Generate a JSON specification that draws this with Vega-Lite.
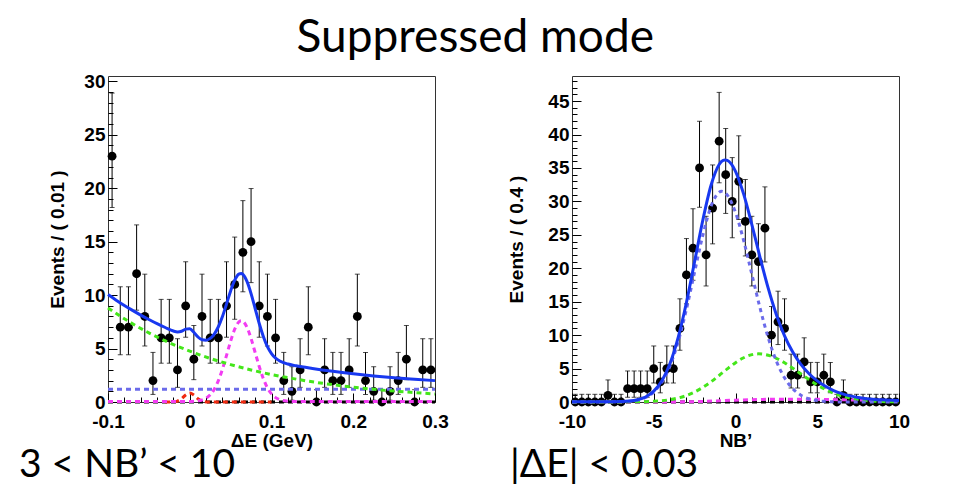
{
  "$schema": "https://vega.github.io/schema/vega-lite/v6.json",
  "background": "white",
  "padding": {"left": 18, "top": 14, "right": 10, "bottom": 0},
  "title": {"text": "Suppressed mode", "font": "Lato", "fontSize": 46, "fontWeight": "normal", "color": "black", "anchor": "middle", "offset": 10, "dx": 11},
  "spacing": 58,
  "config": {
    "view": {"stroke": "#333", "strokeWidth": 1},
    "axis": {"labelFont": "Liberation Sans", "labelFontWeight": "bold", "labelFontSize": 19, "labelColor": "black",
      "titleFont": "Liberation Sans", "titleFontWeight": "bold", "titleFontSize": 19, "titleColor": "black",
      "tickColor": "black", "tickWidth": 1, "domain": false, "grid": false, "labelOverlap": false, "labelFlush": false, "labelBound": false}
  },
  "datasets": {
    "lpts": [
      {"x": -0.095, "n": 23, "lo": 18.2, "hi": 28.9},
      {"x": -0.085, "n": 7, "lo": 4.42, "hi": 10.78},
      {"x": -0.075, "n": 7, "lo": 4.42, "hi": 10.78},
      {"x": -0.065, "n": 12, "lo": 8.59, "hi": 16.57},
      {"x": -0.055, "n": 8, "lo": 5.24, "hi": 11.96},
      {"x": -0.045, "n": 2, "lo": 0.71, "hi": 4.64},
      {"x": -0.035, "n": 6, "lo": 3.63, "hi": 9.6},
      {"x": -0.025, "n": 6, "lo": 3.63, "hi": 9.6},
      {"x": -0.015, "n": 3, "lo": 1.37, "hi": 5.92},
      {"x": -0.005, "n": 9, "lo": 6.06, "hi": 13.12},
      {"x": 0.005, "n": 4, "lo": 2.09, "hi": 7.16},
      {"x": 0.015, "n": 8, "lo": 5.24, "hi": 11.96},
      {"x": 0.025, "n": 6, "lo": 3.63, "hi": 9.6},
      {"x": 0.035, "n": 6, "lo": 3.63, "hi": 9.6},
      {"x": 0.045, "n": 9, "lo": 6.06, "hi": 13.12},
      {"x": 0.055, "n": 11, "lo": 7.74, "hi": 15.43},
      {"x": 0.065, "n": 14, "lo": 10.31, "hi": 18.84},
      {"x": 0.075, "n": 15, "lo": 11.17, "hi": 19.97},
      {"x": 0.085, "n": 9, "lo": 6.06, "hi": 13.12},
      {"x": 0.095, "n": 8, "lo": 5.24, "hi": 11.96},
      {"x": 0.105, "n": 6, "lo": 3.63, "hi": 9.6},
      {"x": 0.115, "n": 2, "lo": 0.71, "hi": 4.64},
      {"x": 0.125, "n": 1, "lo": 0.17, "hi": 3.3},
      {"x": 0.135, "n": 3, "lo": 1.37, "hi": 5.92},
      {"x": 0.145, "n": 7, "lo": 4.42, "hi": 10.78},
      {"x": 0.155, "n": 0, "lo": 0, "hi": 1.15},
      {"x": 0.165, "n": 3, "lo": 1.37, "hi": 5.92},
      {"x": 0.175, "n": 2, "lo": 0.71, "hi": 4.64},
      {"x": 0.185, "n": 2, "lo": 0.71, "hi": 4.64},
      {"x": 0.195, "n": 3, "lo": 1.37, "hi": 5.92},
      {"x": 0.205, "n": 8, "lo": 5.24, "hi": 11.96},
      {"x": 0.215, "n": 2, "lo": 0.71, "hi": 4.64},
      {"x": 0.225, "n": 1, "lo": 0.17, "hi": 3.3},
      {"x": 0.235, "n": 0, "lo": 0, "hi": 1.15},
      {"x": 0.245, "n": 1, "lo": 0.17, "hi": 3.3},
      {"x": 0.255, "n": 2, "lo": 0.71, "hi": 4.64},
      {"x": 0.265, "n": 4, "lo": 2.09, "hi": 7.16},
      {"x": 0.275, "n": 0, "lo": 0, "hi": 1.15},
      {"x": 0.285, "n": 3, "lo": 1.37, "hi": 5.92},
      {"x": 0.295, "n": 3, "lo": 1.37, "hi": 5.92}
    ],
    "rpts": [
      {"x": -9.8, "n": 0, "lo": 0, "hi": 1.15},
      {"x": -9.4, "n": 0, "lo": 0, "hi": 1.15},
      {"x": -9.0, "n": 0, "lo": 0, "hi": 1.15},
      {"x": -8.6, "n": 0, "lo": 0, "hi": 1.15},
      {"x": -8.2, "n": 0, "lo": 0, "hi": 1.15},
      {"x": -7.8, "n": 1, "lo": 0.17, "hi": 3.3},
      {"x": -7.4, "n": 0, "lo": 0, "hi": 1.15},
      {"x": -7.0, "n": 0, "lo": 0, "hi": 1.15},
      {"x": -6.6, "n": 2, "lo": 0.71, "hi": 4.64},
      {"x": -6.2, "n": 2, "lo": 0.71, "hi": 4.64},
      {"x": -5.8, "n": 2, "lo": 0.71, "hi": 4.64},
      {"x": -5.4, "n": 2, "lo": 0.71, "hi": 4.64},
      {"x": -5.0, "n": 5, "lo": 2.84, "hi": 8.38},
      {"x": -4.6, "n": 3, "lo": 1.37, "hi": 5.92},
      {"x": -4.2, "n": 5, "lo": 2.84, "hi": 8.38},
      {"x": -3.8, "n": 5, "lo": 2.84, "hi": 8.38},
      {"x": -3.4, "n": 11, "lo": 7.74, "hi": 15.43},
      {"x": -3.0, "n": 19, "lo": 14.68, "hi": 24.44},
      {"x": -2.6, "n": 23, "lo": 18.2, "hi": 28.9},
      {"x": -2.2, "n": 35, "lo": 29.12, "hi": 41.98},
      {"x": -1.8, "n": 22, "lo": 17.35, "hi": 27.77},
      {"x": -1.4, "n": 29, "lo": 23.65, "hi": 35.45},
      {"x": -1.0, "n": 39, "lo": 32.78, "hi": 46.3},
      {"x": -0.6, "n": 34, "lo": 28.2, "hi": 40.9},
      {"x": -0.2, "n": 30, "lo": 24.56, "hi": 36.55},
      {"x": 0.2, "n": 33, "lo": 27.29, "hi": 39.81},
      {"x": 0.6, "n": 27, "lo": 21.84, "hi": 33.27},
      {"x": 1.0, "n": 22, "lo": 17.35, "hi": 27.77},
      {"x": 1.4, "n": 21, "lo": 16.46, "hi": 26.66},
      {"x": 1.8, "n": 26, "lo": 20.94, "hi": 32.17},
      {"x": 2.2, "n": 10, "lo": 6.9, "hi": 14.28},
      {"x": 2.6, "n": 12, "lo": 8.59, "hi": 16.57},
      {"x": 3.0, "n": 11, "lo": 7.74, "hi": 15.43},
      {"x": 3.4, "n": 4, "lo": 2.09, "hi": 7.16},
      {"x": 3.8, "n": 4, "lo": 2.09, "hi": 7.16},
      {"x": 4.2, "n": 6, "lo": 3.63, "hi": 9.6},
      {"x": 4.6, "n": 3, "lo": 1.37, "hi": 5.92},
      {"x": 5.0, "n": 3, "lo": 1.37, "hi": 5.92},
      {"x": 5.4, "n": 4, "lo": 2.09, "hi": 7.16},
      {"x": 5.8, "n": 3, "lo": 1.37, "hi": 5.92},
      {"x": 6.2, "n": 0, "lo": 0, "hi": 1.15},
      {"x": 6.6, "n": 1, "lo": 0.17, "hi": 3.3},
      {"x": 7.0, "n": 0, "lo": 0, "hi": 1.15},
      {"x": 7.4, "n": 0, "lo": 0, "hi": 1.15},
      {"x": 7.8, "n": 0, "lo": 0, "hi": 1.15},
      {"x": 8.2, "n": 0, "lo": 0, "hi": 1.15},
      {"x": 8.6, "n": 0, "lo": 0, "hi": 1.15},
      {"x": 9.0, "n": 0, "lo": 0, "hi": 1.15},
      {"x": 9.4, "n": 0, "lo": 0, "hi": 1.15},
      {"x": 9.8, "n": 0, "lo": 0, "hi": 1.15}
    ],
    "lcur": [
      {"s": "black", "x": -0.1, "y": 0}, {"s": "black", "x": 0.3, "y": 0},
      {"s": "flat", "x": -0.1, "y": 1.2}, {"s": "flat", "x": 0.3, "y": 1.2},
      {"s": "red", "x": -0.03, "y": 0}, {"s": "red", "x": -0.02, "y": 0.01}, {"s": "red", "x": -0.015, "y": 0.09}, {"s": "red", "x": -0.01, "y": 0.31}, {"s": "red", "x": -0.005, "y": 0.66}, {"s": "red", "x": 0, "y": 0.85}, {"s": "red", "x": 0.005, "y": 0.66}, {"s": "red", "x": 0.01, "y": 0.31}, {"s": "red", "x": 0.015, "y": 0.09}, {"s": "red", "x": 0.02, "y": 0.01}, {"s": "red", "x": 0.03, "y": 0}, {"s": "red", "x": 0.1, "y": 0},
      {"s": "green", "x": -0.1, "y": 8.8}, {"s": "green", "x": -0.075, "y": 7.55}, {"s": "green", "x": -0.05, "y": 6.47}, {"s": "green", "x": -0.025, "y": 5.55}, {"s": "green", "x": 0, "y": 4.76}, {"s": "green", "x": 0.025, "y": 4.08}, {"s": "green", "x": 0.05, "y": 3.5}, {"s": "green", "x": 0.075, "y": 3.0}, {"s": "green", "x": 0.1, "y": 2.57}, {"s": "green", "x": 0.125, "y": 2.21}, {"s": "green", "x": 0.15, "y": 1.89}, {"s": "green", "x": 0.175, "y": 1.62}, {"s": "green", "x": 0.2, "y": 1.39}, {"s": "green", "x": 0.225, "y": 1.19}, {"s": "green", "x": 0.25, "y": 1.02}, {"s": "green", "x": 0.275, "y": 0.88}, {"s": "green", "x": 0.3, "y": 0.75},
      {"s": "magenta", "x": -0.1, "y": 0.05}, {"s": "magenta", "x": 0, "y": 0.05}, {"s": "magenta", "x": 0.01, "y": 0.11}, {"s": "magenta", "x": 0.015, "y": 0.19}, {"s": "magenta", "x": 0.02, "y": 0.36}, {"s": "magenta", "x": 0.025, "y": 0.67}, {"s": "magenta", "x": 0.03, "y": 1.2}, {"s": "magenta", "x": 0.035, "y": 2.0}, {"s": "magenta", "x": 0.04, "y": 3.07}, {"s": "magenta", "x": 0.045, "y": 4.36}, {"s": "magenta", "x": 0.05, "y": 5.69}, {"s": "magenta", "x": 0.055, "y": 6.81}, {"s": "magenta", "x": 0.06, "y": 7.48}, {"s": "magenta", "x": 0.063, "y": 7.6}, {"s": "magenta", "x": 0.065, "y": 7.55}, {"s": "magenta", "x": 0.07, "y": 6.99}, {"s": "magenta", "x": 0.075, "y": 5.94}, {"s": "magenta", "x": 0.08, "y": 4.63}, {"s": "magenta", "x": 0.085, "y": 3.32}, {"s": "magenta", "x": 0.09, "y": 2.19}, {"s": "magenta", "x": 0.095, "y": 1.33}, {"s": "magenta", "x": 0.1, "y": 0.76}, {"s": "magenta", "x": 0.105, "y": 0.41}, {"s": "magenta", "x": 0.11, "y": 0.22}, {"s": "magenta", "x": 0.12, "y": 0.08}, {"s": "magenta", "x": 0.13, "y": 0.05}, {"s": "magenta", "x": 0.3, "y": 0.05},
      {"s": "total", "x": -0.1, "y": 10.05}, {"s": "total", "x": -0.09, "y": 9.53}, {"s": "total", "x": -0.08, "y": 9.03}, {"s": "total", "x": -0.07, "y": 8.57}, {"s": "total", "x": -0.06, "y": 8.13}, {"s": "total", "x": -0.05, "y": 7.72}, {"s": "total", "x": -0.04, "y": 7.33}, {"s": "total", "x": -0.03, "y": 6.97}, {"s": "total", "x": -0.02, "y": 6.64}, {"s": "total", "x": -0.015, "y": 6.56}, {"s": "total", "x": -0.01, "y": 6.62}, {"s": "total", "x": -0.005, "y": 6.82}, {"s": "total", "x": 0, "y": 6.86}, {"s": "total", "x": 0.005, "y": 6.52}, {"s": "total", "x": 0.01, "y": 6.09}, {"s": "total", "x": 0.015, "y": 5.82}, {"s": "total", "x": 0.02, "y": 5.78}, {"s": "total", "x": 0.025, "y": 5.95}, {"s": "total", "x": 0.03, "y": 6.36}, {"s": "total", "x": 0.035, "y": 7.04}, {"s": "total", "x": 0.04, "y": 7.99}, {"s": "total", "x": 0.045, "y": 9.17}, {"s": "total", "x": 0.05, "y": 10.39}, {"s": "total", "x": 0.055, "y": 11.4}, {"s": "total", "x": 0.06, "y": 11.97}, {"s": "total", "x": 0.063, "y": 12.03}, {"s": "total", "x": 0.065, "y": 11.94}, {"s": "total", "x": 0.07, "y": 11.28}, {"s": "total", "x": 0.075, "y": 10.14}, {"s": "total", "x": 0.08, "y": 8.74}, {"s": "total", "x": 0.085, "y": 7.34}, {"s": "total", "x": 0.09, "y": 6.13}, {"s": "total", "x": 0.095, "y": 5.18}, {"s": "total", "x": 0.1, "y": 4.53}, {"s": "total", "x": 0.105, "y": 4.1}, {"s": "total", "x": 0.11, "y": 3.84}, {"s": "total", "x": 0.12, "y": 3.55}, {"s": "total", "x": 0.13, "y": 3.39}, {"s": "total", "x": 0.15, "y": 3.14}, {"s": "total", "x": 0.175, "y": 2.87}, {"s": "total", "x": 0.2, "y": 2.64}, {"s": "total", "x": 0.225, "y": 2.44}, {"s": "total", "x": 0.25, "y": 2.27}, {"s": "total", "x": 0.275, "y": 2.13}, {"s": "total", "x": 0.3, "y": 2.0}
    ],
    "rcur": [
      {"s": "black", "x": -10, "y": 0}, {"s": "black", "x": 10, "y": 0},
      {"s": "magenta", "x": -10, "y": 0}, {"s": "magenta", "x": -3, "y": 0.02}, {"s": "magenta", "x": -2, "y": 0.08}, {"s": "magenta", "x": -1, "y": 0.18}, {"s": "magenta", "x": 0, "y": 0.28}, {"s": "magenta", "x": 1, "y": 0.35}, {"s": "magenta", "x": 2, "y": 0.4}, {"s": "magenta", "x": 3, "y": 0.42}, {"s": "magenta", "x": 4, "y": 0.42}, {"s": "magenta", "x": 5, "y": 0.4}, {"s": "magenta", "x": 6, "y": 0.36}, {"s": "magenta", "x": 7, "y": 0.32}, {"s": "magenta", "x": 8, "y": 0.28}, {"s": "magenta", "x": 9, "y": 0.25}, {"s": "magenta", "x": 10, "y": 0.22},
      {"s": "green", "x": -10, "y": 0}, {"s": "green", "x": -6, "y": 0.03}, {"s": "green", "x": -5.5, "y": 0.05}, {"s": "green", "x": -5, "y": 0.11}, {"s": "green", "x": -4.5, "y": 0.2}, {"s": "green", "x": -4, "y": 0.35}, {"s": "green", "x": -3.5, "y": 0.6}, {"s": "green", "x": -3, "y": 0.97}, {"s": "green", "x": -2.5, "y": 1.5}, {"s": "green", "x": -2, "y": 2.18}, {"s": "green", "x": -1.5, "y": 3.02}, {"s": "green", "x": -1, "y": 3.97}, {"s": "green", "x": -0.5, "y": 4.96}, {"s": "green", "x": 0, "y": 5.88}, {"s": "green", "x": 0.5, "y": 6.62}, {"s": "green", "x": 1, "y": 7.08}, {"s": "green", "x": 1.4, "y": 7.2}, {"s": "green", "x": 2, "y": 7.0}, {"s": "green", "x": 2.5, "y": 6.54}, {"s": "green", "x": 3, "y": 5.87}, {"s": "green", "x": 3.5, "y": 5.06}, {"s": "green", "x": 4, "y": 4.19}, {"s": "green", "x": 4.5, "y": 3.34}, {"s": "green", "x": 5, "y": 2.55}, {"s": "green", "x": 5.5, "y": 1.88}, {"s": "green", "x": 6, "y": 1.32}, {"s": "green", "x": 6.5, "y": 0.9}, {"s": "green", "x": 7, "y": 0.59}, {"s": "green", "x": 7.5, "y": 0.37}, {"s": "green", "x": 8, "y": 0.22}, {"s": "green", "x": 9, "y": 0.07}, {"s": "green", "x": 10, "y": 0.02},
      {"s": "purple", "x": -10, "y": 0}, {"s": "purple", "x": -7, "y": 0.04}, {"s": "purple", "x": -6.5, "y": 0.11}, {"s": "purple", "x": -6, "y": 0.29}, {"s": "purple", "x": -5.5, "y": 0.68}, {"s": "purple", "x": -5, "y": 1.49}, {"s": "purple", "x": -4.5, "y": 2.97}, {"s": "purple", "x": -4, "y": 5.43}, {"s": "purple", "x": -3.5, "y": 9.08}, {"s": "purple", "x": -3, "y": 13.89}, {"s": "purple", "x": -2.5, "y": 19.45}, {"s": "purple", "x": -2, "y": 24.92}, {"s": "purple", "x": -1.5, "y": 29.23}, {"s": "purple", "x": -1, "y": 31.37}, {"s": "purple", "x": -0.85, "y": 31.5}, {"s": "purple", "x": -0.5, "y": 30.94}, {"s": "purple", "x": 0, "y": 28.34}, {"s": "purple", "x": 0.5, "y": 24.14}, {"s": "purple", "x": 1, "y": 19.11}, {"s": "purple", "x": 1.5, "y": 14.06}, {"s": "purple", "x": 2, "y": 9.62}, {"s": "purple", "x": 2.5, "y": 6.11}, {"s": "purple", "x": 3, "y": 3.61}, {"s": "purple", "x": 3.5, "y": 1.99}, {"s": "purple", "x": 4, "y": 1.01}, {"s": "purple", "x": 4.5, "y": 0.48}, {"s": "purple", "x": 5, "y": 0.21}, {"s": "purple", "x": 5.5, "y": 0.09}, {"s": "purple", "x": 6, "y": 0.03}, {"s": "purple", "x": 7, "y": 0}, {"s": "purple", "x": 10, "y": 0},
      {"s": "total", "x": -10, "y": 0.02}, {"s": "total", "x": -8, "y": 0.03}, {"s": "total", "x": -7, "y": 0.07}, {"s": "total", "x": -6.5, "y": 0.14}, {"s": "total", "x": -6, "y": 0.34}, {"s": "total", "x": -5.5, "y": 0.75}, {"s": "total", "x": -5, "y": 1.62}, {"s": "total", "x": -4.5, "y": 3.19}, {"s": "total", "x": -4, "y": 5.8}, {"s": "total", "x": -3.5, "y": 9.7}, {"s": "total", "x": -3, "y": 14.88}, {"s": "total", "x": -2.5, "y": 21.0}, {"s": "total", "x": -2, "y": 27.18}, {"s": "total", "x": -1.5, "y": 32.38}, {"s": "total", "x": -1, "y": 35.52}, {"s": "total", "x": -0.85, "y": 35.97}, {"s": "total", "x": -0.65, "y": 36.19}, {"s": "total", "x": -0.5, "y": 36.13}, {"s": "total", "x": -0.25, "y": 35.57}, {"s": "total", "x": 0, "y": 34.5}, {"s": "total", "x": 0.5, "y": 31.08}, {"s": "total", "x": 1, "y": 26.54}, {"s": "total", "x": 1.5, "y": 21.63}, {"s": "total", "x": 2, "y": 17.02}, {"s": "total", "x": 2.5, "y": 13.06}, {"s": "total", "x": 3, "y": 9.9}, {"s": "total", "x": 3.5, "y": 7.47}, {"s": "total", "x": 4, "y": 5.62}, {"s": "total", "x": 4.5, "y": 4.23}, {"s": "total", "x": 5, "y": 3.16}, {"s": "total", "x": 5.5, "y": 2.35}, {"s": "total", "x": 6, "y": 1.71}, {"s": "total", "x": 6.5, "y": 1.25}, {"s": "total", "x": 7, "y": 0.91}, {"s": "total", "x": 7.5, "y": 0.67}, {"s": "total", "x": 8, "y": 0.5}, {"s": "total", "x": 9, "y": 0.32}, {"s": "total", "x": 10, "y": 0.24}
    ]
  },
  "hconcat": [
    {
      "width": 327, "height": 326,
      "title": {"text": "3 < NB’ < 10", "orient": "bottom", "anchor": "start", "frame": "group", "dx": -89, "offset": 27, "baseline": "alphabetic", "font": "Lato", "fontSize": 39, "fontWeight": "normal", "color": "black"},
      "resolve": {"axis": {"x": "independent", "y": "independent"}},
      "layer": [
        {"data": {"name": "lcur"}, "transform": [{"filter": "datum.s === 'black'"}],
          "mark": {"type": "line", "color": "black", "strokeWidth": 3, "strokeDash": [5, 4]},
          "encoding": {"x": {"field": "x", "type": "quantitative", "scale": {"domain": [-0.1, 0.3], "nice": false, "zero": false},
              "axis": {"orient": "bottom", "values": [-0.08, -0.06, -0.04, -0.02, 0.02, 0.04, 0.06, 0.08, 0.12, 0.14, 0.16, 0.18, 0.22, 0.24, 0.26, 0.28], "labels": false, "title": null, "tickSize": -5}},
            "y": {"field": "y", "type": "quantitative", "scale": {"domain": [0, 30.5], "nice": false},
              "axis": {"orient": "left", "values": [1,2,3,4,6,7,8,9,11,12,13,14,16,17,18,19,21,22,23,24,26,27,28,29], "labels": false, "title": null, "tickSize": -5}}}},
        {"data": {"name": "lpts"},
          "mark": {"type": "errorbar", "color": "black", "ticks": {"size": 5, "thickness": 1, "color": "black"}, "rule": {"strokeWidth": 1, "color": "black"}},
          "encoding": {"x": {"field": "x", "type": "quantitative", "scale": {"domain": [-0.1, 0.3], "nice": false, "zero": false}, "axis": null},
            "y": {"field": "lo", "type": "quantitative", "scale": {"domain": [0, 30.5], "nice": false}, "axis": null},
            "y2": {"field": "hi"}}},
        {"data": {"name": "lpts"},
          "mark": {"type": "circle", "color": "black", "size": 78, "opacity": 1},
          "encoding": {
            "x": {"field": "x", "type": "quantitative", "scale": {"domain": [-0.1, 0.3], "nice": false, "zero": false},
              "axis": {"orient": "bottom", "title": "ΔE (GeV)", "values": [-0.1, 0, 0.1, 0.2, 0.3],
                "labelExpr": "toString(round(datum.value*10)/10)",
                "tickSize": -9, "labelPadding": 19, "titlePadding": 0}},
            "y": {"field": "n", "type": "quantitative", "scale": {"domain": [0, 30.5], "nice": false},
              "axis": {"orient": "left", "title": "Events / ( 0.01 )", "values": [0, 5, 10, 15, 20, 25, 30],
                "labelExpr": "toString(datum.value)",
                "tickSize": -9, "labelPadding": 12, "titlePadding": 16}}}},
        {"data": {"name": "lcur"}, "transform": [{"filter": "datum.s === 'red'"}],
          "mark": {"type": "line", "color": "#f02a10", "strokeWidth": 3, "strokeDash": [5, 4], "interpolate": "monotone"},
          "encoding": {"x": {"field": "x", "type": "quantitative", "scale": {"domain": [-0.1, 0.3], "nice": false, "zero": false}, "axis": null},
            "y": {"field": "y", "type": "quantitative", "scale": {"domain": [0, 30.5], "nice": false}, "axis": null}}},
        {"data": {"name": "lcur"}, "transform": [{"filter": "datum.s === 'flat'"}],
          "mark": {"type": "line", "color": "#6b6bea", "strokeWidth": 3, "strokeDash": [5, 4]},
          "encoding": {"x": {"field": "x", "type": "quantitative", "scale": {"domain": [-0.1, 0.3], "nice": false, "zero": false}, "axis": null},
            "y": {"field": "y", "type": "quantitative", "scale": {"domain": [0, 30.5], "nice": false}, "axis": null}}},
        {"data": {"name": "lcur"}, "transform": [{"filter": "datum.s === 'magenta'"}],
          "mark": {"type": "line", "color": "#f23cf2", "strokeWidth": 3, "strokeDash": [5, 4], "interpolate": "monotone"},
          "encoding": {"x": {"field": "x", "type": "quantitative", "scale": {"domain": [-0.1, 0.3], "nice": false, "zero": false}, "axis": null},
            "y": {"field": "y", "type": "quantitative", "scale": {"domain": [0, 30.5], "nice": false}, "axis": null}}},
        {"data": {"name": "lcur"}, "transform": [{"filter": "datum.s === 'green'"}],
          "mark": {"type": "line", "color": "#44e61a", "strokeWidth": 3, "strokeDash": [5, 4], "interpolate": "monotone"},
          "encoding": {"x": {"field": "x", "type": "quantitative", "scale": {"domain": [-0.1, 0.3], "nice": false, "zero": false}, "axis": null},
            "y": {"field": "y", "type": "quantitative", "scale": {"domain": [0, 30.5], "nice": false}, "axis": null}}},
        {"data": {"name": "lcur"}, "transform": [{"filter": "datum.s === 'total'"}],
          "mark": {"type": "line", "color": "#1838f0", "strokeWidth": 3, "interpolate": "monotone"},
          "encoding": {"x": {"field": "x", "type": "quantitative", "scale": {"domain": [-0.1, 0.3], "nice": false, "zero": false}, "axis": null},
            "y": {"field": "y", "type": "quantitative", "scale": {"domain": [0, 30.5], "nice": false}, "axis": null}}}
      ]
    },
    {
      "width": 327, "height": 326,
      "title": {"text": "|ΔE| < 0.03", "orient": "bottom", "anchor": "start", "frame": "group", "dx": -62, "offset": 27, "baseline": "alphabetic", "font": "Lato", "fontSize": 39, "fontWeight": "normal", "color": "black"},
      "resolve": {"axis": {"x": "independent", "y": "independent"}},
      "layer": [
        {"data": {"name": "rcur"}, "transform": [{"filter": "datum.s === 'black'"}],
          "mark": {"type": "line", "color": "black", "strokeWidth": 3, "strokeDash": [5, 4]},
          "encoding": {"x": {"field": "x", "type": "quantitative", "scale": {"domain": [-10, 10], "nice": false, "zero": false},
              "axis": {"orient": "bottom", "values": [-9,-8,-7,-6,-4,-3,-2,-1,1,2,3,4,6,7,8,9], "labels": false, "title": null, "tickSize": -5}},
            "y": {"field": "y", "type": "quantitative", "scale": {"domain": [0, 48.75], "nice": false},
              "axis": {"orient": "left", "values": [1,2,3,4,6,7,8,9,11,12,13,14,16,17,18,19,21,22,23,24,26,27,28,29,31,32,33,34,36,37,38,39,41,42,43,44,46,47,48], "labels": false, "title": null, "tickSize": -5}}}},
        {"data": {"name": "rpts"},
          "mark": {"type": "errorbar", "color": "black", "ticks": {"size": 5, "thickness": 1, "color": "black"}, "rule": {"strokeWidth": 1, "color": "black"}},
          "encoding": {"x": {"field": "x", "type": "quantitative", "scale": {"domain": [-10, 10], "nice": false, "zero": false}, "axis": null},
            "y": {"field": "lo", "type": "quantitative", "scale": {"domain": [0, 48.75], "nice": false}, "axis": null},
            "y2": {"field": "hi"}}},
        {"data": {"name": "rpts"},
          "mark": {"type": "circle", "color": "black", "size": 78, "opacity": 1},
          "encoding": {
            "x": {"field": "x", "type": "quantitative", "scale": {"domain": [-10, 10], "nice": false, "zero": false},
              "axis": {"orient": "bottom", "title": "NB’", "values": [-10, -5, 0, 5, 10],
                "labelExpr": "toString(datum.value)",
                "tickSize": -9, "labelPadding": 19, "titlePadding": 0}},
            "y": {"field": "n", "type": "quantitative", "scale": {"domain": [0, 48.75], "nice": false},
              "axis": {"orient": "left", "title": "Events / ( 0.4 )", "values": [0, 5, 10, 15, 20, 25, 30, 35, 40, 45],
                "labelExpr": "toString(datum.value)",
                "tickSize": -9, "labelPadding": 12, "titlePadding": 21}}}},
        {"data": {"name": "rcur"}, "transform": [{"filter": "datum.s === 'magenta'"}],
          "mark": {"type": "line", "color": "#f23cf2", "strokeWidth": 3, "strokeDash": [5, 4], "interpolate": "monotone"},
          "encoding": {"x": {"field": "x", "type": "quantitative", "scale": {"domain": [-10, 10], "nice": false, "zero": false}, "axis": null},
            "y": {"field": "y", "type": "quantitative", "scale": {"domain": [0, 48.75], "nice": false}, "axis": null}}},
        {"data": {"name": "rcur"}, "transform": [{"filter": "datum.s === 'green'"}],
          "mark": {"type": "line", "color": "#44e61a", "strokeWidth": 3, "strokeDash": [5, 4], "interpolate": "monotone"},
          "encoding": {"x": {"field": "x", "type": "quantitative", "scale": {"domain": [-10, 10], "nice": false, "zero": false}, "axis": null},
            "y": {"field": "y", "type": "quantitative", "scale": {"domain": [0, 48.75], "nice": false}, "axis": null}}},
        {"data": {"name": "rcur"}, "transform": [{"filter": "datum.s === 'purple'"}],
          "mark": {"type": "line", "color": "#6b6bea", "strokeWidth": 3, "strokeDash": [4, 4], "interpolate": "monotone"},
          "encoding": {"x": {"field": "x", "type": "quantitative", "scale": {"domain": [-10, 10], "nice": false, "zero": false}, "axis": null},
            "y": {"field": "y", "type": "quantitative", "scale": {"domain": [0, 48.75], "nice": false}, "axis": null}}},
        {"data": {"name": "rcur"}, "transform": [{"filter": "datum.s === 'total'"}],
          "mark": {"type": "line", "color": "#1838f0", "strokeWidth": 3, "interpolate": "monotone"},
          "encoding": {"x": {"field": "x", "type": "quantitative", "scale": {"domain": [-10, 10], "nice": false, "zero": false}, "axis": null},
            "y": {"field": "y", "type": "quantitative", "scale": {"domain": [0, 48.75], "nice": false}, "axis": null}}}
      ]
    }
  ]
}
